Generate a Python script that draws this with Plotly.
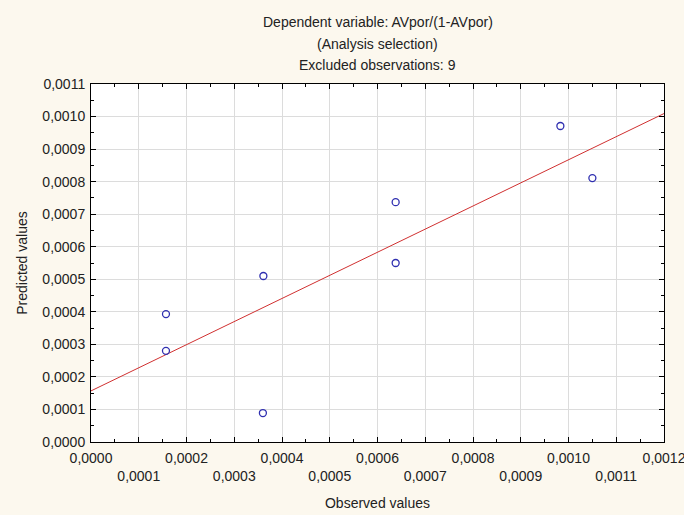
import numpy as np
import plotly.graph_objects as go

# Observed vs predicted values
observed = [0.000157, 0.000157, 0.000361, 0.000360, 0.000638, 0.000638, 0.000983, 0.001050]
predicted = [0.000393, 0.000280, 0.000510, 0.000089, 0.000737, 0.000550, 0.000971, 0.000811]

x_ticks = [i * 0.0001 for i in range(13)]
y_ticks = [i * 0.0001 for i in range(12)]

title_lines = ["Dependent variable: AVpor/(1-AVpor)", "(Analysis selection)", "Excluded observations: 9"]

def fmt(v):
    return f"{v:.4f}".replace(".", ",")

x_ticktext = [fmt(v) if i % 2 == 0 else "<br>" + fmt(v) for i, v in enumerate(x_ticks)]
y_ticktext = [fmt(v) for v in y_ticks]

# regression line (observed -> predicted)
slope, intercept = np.polyfit(observed, predicted, 1)
line_x = [0.0, 0.0012]
line_y = [intercept + slope * v for v in line_x]

fig = go.Figure()
fig.add_trace(go.Scatter(x=line_x, y=line_y, mode="lines",
                         line=dict(color="#d03030", width=1), hoverinfo="skip"))
fig.add_trace(go.Scatter(x=observed, y=predicted, mode="markers",
                         marker=dict(symbol="circle-open", size=7, color="#2f2fb0",
                                     line=dict(width=1.3, color="#2f2fb0"))))

font = "Liberation Sans, Arial, sans-serif"
fs = 14
H = 515
t, b = 84, 73
ph = H - t - b
for i, txt in enumerate(title_lines):
    ycen = [22, 44, 65][i]
    fig.add_annotation(text=txt, xref="paper", x=0.5, xanchor="center",
                       yref="paper", y=(H - b - ycen) / ph, yanchor="middle",
                       showarrow=False, font=dict(family=font, size=fs, color="#222222"))

fig.update_layout(
    width=684, height=515,
    margin=dict(l=91, r=20, t=t, b=b),
    paper_bgcolor="#fcf8ee", plot_bgcolor="#ffffff",
    showlegend=False,
    font=dict(family=font, size=fs, color="#222222"),
)
fig.update_xaxes(range=[0, 0.0012], tickvals=x_ticks, ticktext=x_ticktext,
                 automargin=False, ticklabelstandoff=3, ticklabeloverflow="allow",
                 showgrid=True, gridcolor="#dcdcdc", gridwidth=1,
                 showline=True, linecolor="#000000", linewidth=1, mirror="ticks",
                 ticks="inside", ticklen=5, tickcolor="#000000",
                 minor=dict(ticks="inside", ticklen=3, nticks=5, tickcolor="#000000", showgrid=False),
                 zeroline=False,
                 title=dict(text="Observed values", standoff=15, font=dict(size=fs)))
fig.update_yaxes(range=[0, 0.0011], tickvals=y_ticks, ticktext=y_ticktext,
                 automargin=False, ticklabelstandoff=2,
                 showgrid=True, gridcolor="#dcdcdc", gridwidth=1,
                 showline=True, linecolor="#000000", linewidth=1, mirror="ticks",
                 ticks="inside", ticklen=5, tickcolor="#000000",
                 minor=dict(ticks="inside", ticklen=3, nticks=5, tickcolor="#000000", showgrid=False),
                 zeroline=False,
                 title=dict(text="Predicted values", standoff=11, font=dict(size=fs)))

fig.write_html("out.html")
